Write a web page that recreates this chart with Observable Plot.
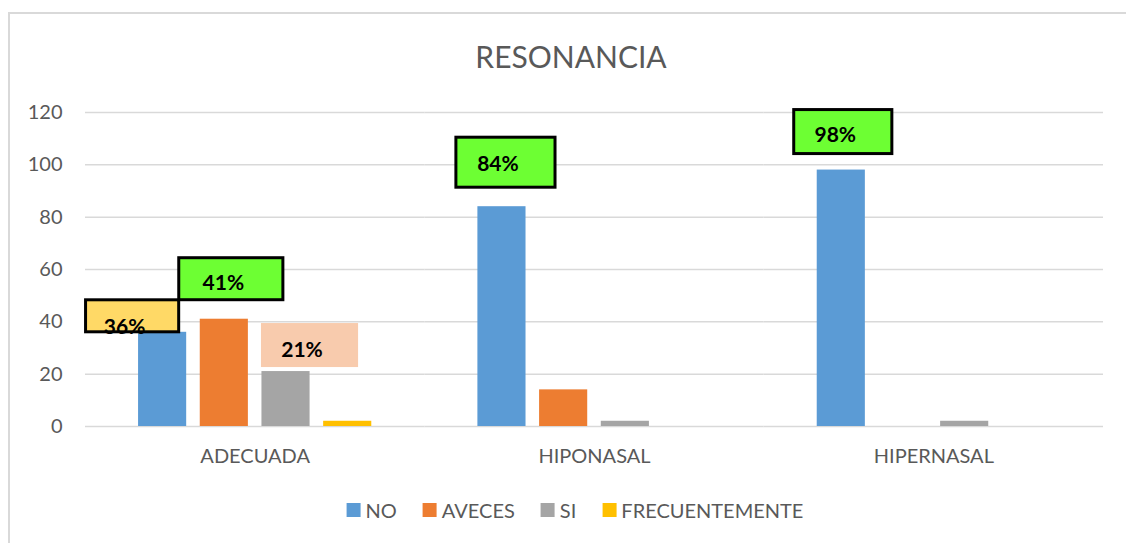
<!DOCTYPE html>
<html>
<head>
<meta charset="utf-8">
<script src="https://cdn.jsdelivr.net/npm/d3@7"></script>
<script src="https://cdn.jsdelivr.net/npm/@observablehq/plot@0.6"></script>
<style>
  body { margin: 0; background: #fff; }
  #wrap { position: relative; width: 1126px; height: 543px; overflow: hidden; font-family: Lato, "Open Sans", sans-serif; }
  #frame { position: absolute; left: 8px; top: 12px; width: 1300px; height: 700px; border: 2px solid #D9D9D9; box-sizing: border-box; }
  #title { position: absolute; left: 571px; top: 38px; transform: translateX(-50%); font-size: 30px; color: #595959; white-space: nowrap; }
  #chart { position: absolute; left: 0; top: 0; }
  #legend { position: absolute; left: 575px; top: 498px; transform: translateX(-50%); display: flex; gap: 26px; font-size: 20px; color: #595959; white-space: nowrap; }
  #legend .item { display: flex; align-items: center; gap: 5px; }
  #legend .sw { width: 14px; height: 14px; display: inline-block; }
</style>
</head>
<body>
<div id="wrap">
  <div id="frame"></div>
  <div id="chart"></div>
  <div id="title">RESONANCIA</div>
  <div id="legend"></div>
</div>
<script>
// ---- data ----
const groups = ["ADECUADA", "HIPONASAL", "HIPERNASAL"];
const series = ["NO", "AVECES", "SI", "FRECUENTEMENTE"];
const valuesNO = [36, 84, 98];
const valuesAVECES = [41, 14, 0];
const valuesSI = [21, 2, 2];
const valuesFRECUENTEMENTE = [2, 0, 0];
const yTicks = [0, 20, 40, 60, 80, 100, 120];
// data labels shown on the chart
const labelGroup = ["ADECUADA", "ADECUADA", "ADECUADA", "HIPONASAL", "HIPERNASAL"];
const labelSeries = ["NO", "AVECES", "SI", "NO", "NO"];

// ---- styles ----
const colors = ["#5B9BD5", "#ED7D31", "#A5A5A5", "#FFC000"];
const labelStyle = [
  {fill: "#FFD966", stroke: "#000", w: 93, h: 32, dx: -30, lift: 0, ty: 11},
  {fill: "#6DFF33", stroke: "#000", w: 104, h: 42, dx: 7, lift: 19, ty: 4},
  {fill: "#F8CBAD", stroke: "none", w: 97, h: 44, dx: 24, lift: 4, ty: 5},
  {fill: "#6DFF33", stroke: "#000", w: 99, h: 50, dx: 4, lift: 19, ty: 2},
  {fill: "#6DFF33", stroke: "#000", w: 98, h: 44, dx: 2, lift: 16, ty: 3}
];

const seriesValues = {NO: valuesNO, AVECES: valuesAVECES, SI: valuesSI, FRECUENTEMENTE: valuesFRECUENTEMENTE};
const table = [];
groups.forEach((g, gi) => series.forEach(s => table.push({group: g, series: s, value: seriesValues[s][gi]})));

const labels = labelGroup.map((g, i) => {
  const s = labelSeries[i];
  const v = seriesValues[s][groups.indexOf(g)];
  return {group: g, series: s, value: v, text: v + "%"};
});

const bw = 48;
const labelMarks = [];
labels.forEach((d, i) => {
  const st = labelStyle[i];
  const side = -(st.w - bw) / 2;
  labelMarks.push(Plot.barY([d], {
    fx: "group", x: "series", y1: "value", y2: "value",
    dx: st.dx, dy: -st.lift,
    insetTop: -st.h, insetBottom: 0, insetLeft: side, insetRight: side,
    fill: st.fill, stroke: st.stroke, strokeWidth: 3
  }));
  labelMarks.push(Plot.text([d], {
    fx: "group", x: "series", y: "value", text: "text",
    dx: st.dx - 8, dy: -st.lift - st.h / 2 + st.ty,
    fontSize: 21, fontWeight: "bold", fill: "#000",
    fontFamily: "Lato, sans-serif"
  }));
});

const chart = Plot.plot({
  width: 1126,
  height: 543,
  marginLeft: 85,
  marginRight: 23,
  marginTop: 112,
  marginBottom: 117,
  style: {fontFamily: "Lato, sans-serif", background: "transparent", overflow: "visible"},
  fx: {domain: groups, padding: 0, label: null, round: false},
  x: {domain: series, paddingInner: 0.22, paddingOuter: 0.86, axis: null, round: false},
  y: {domain: [0, 120], label: null},
  color: {domain: series, range: colors},
  marks: [
    Plot.gridY(yTicks, {stroke: "#D9D9D9", strokeOpacity: 1, strokeWidth: 1.5}),
    Plot.axisY(yTicks, {tickSize: 0, tickPadding: 23, fontSize: 20, fill: "#595959", label: null}),
    Plot.axisFx({anchor: "bottom", tickSize: 0, tickPadding: 22, fontSize: 20, fill: "#595959", label: null}),
    Plot.barY(table, {fx: "group", x: "series", y: "value", fill: "series"}),
    ...labelMarks
  ]
});
document.getElementById("chart").appendChild(chart);

const legend = document.getElementById("legend");
series.forEach((s, i) => {
  const item = document.createElement("div");
  item.className = "item";
  const sw = document.createElement("span");
  sw.className = "sw";
  sw.style.background = colors[i];
  const t = document.createElement("span");
  t.textContent = s;
  item.appendChild(sw);
  item.appendChild(t);
  legend.appendChild(item);
});
</script>
</body>
</html>
